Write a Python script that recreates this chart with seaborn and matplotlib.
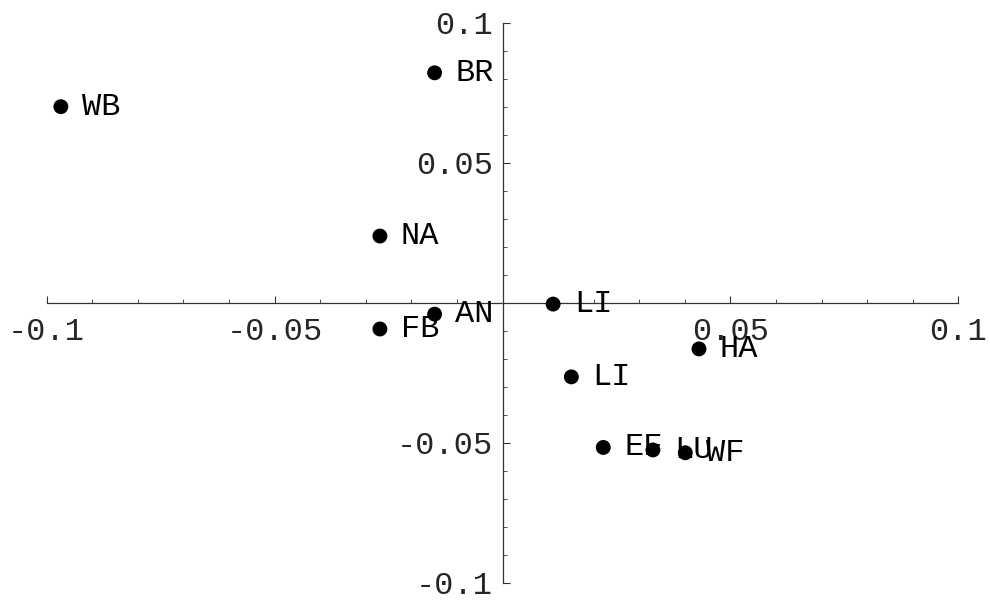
import numpy as np
import pandas as pd
import matplotlib
matplotlib.use('Agg')
import matplotlib.pyplot as plt
from matplotlib.ticker import FixedLocator, MultipleLocator
import seaborn as sns

# data
labels = ['WB', 'BR', 'NA', 'AN', 'FB', 'LI', 'HA', 'LI', 'EF', 'LU', 'WF']
x_vals = [-0.0969, -0.0149, -0.0269, -0.0149, -0.0269, 0.0111, 0.0431, 0.0151, 0.0221, 0.0330, 0.0401]
y_vals = [0.0700, 0.0821, 0.0238, -0.0041, -0.0094, -0.0005, -0.0165, -0.0265, -0.0517, -0.0526, -0.0536]
major_ticks = [-0.1, -0.05, 0.05, 0.1]
tick_labels = ['-0.1', '-0.05', '0.05', '0.1']

df = pd.DataFrame({'label': labels, 'x': x_vals, 'y': y_vals})

sns.set_style('white')
plt.rcParams['font.family'] = ['Liberation Mono', 'DejaVu Sans Mono']
plt.rcParams['axes.unicode_minus'] = False

fig = plt.figure(figsize=(9.9, 6.03), dpi=100)
ax = fig.add_axes([0.0472, 0.0337, 0.9208, 0.9287])

sns.scatterplot(data=df, x='x', y='y', color='black', s=115,
                edgecolor='none', ax=ax, zorder=3)

for _, r in df.iterrows():
    ax.annotate(r['label'], (r['x'], r['y']), xytext=(15, 0),
                textcoords='offset points', va='center', ha='left',
                fontsize=23, color='black')

ax.set_xlim(-0.1, 0.1)
ax.set_ylim(-0.1, 0.1)
ax.set_xlabel('')
ax.set_ylabel('')

# axes crossing at origin
ax.spines['left'].set_position(('data', 0))
ax.spines['bottom'].set_position(('data', 0))
ax.spines['top'].set_visible(False)
ax.spines['right'].set_visible(False)
for s in ['left', 'bottom']:
    ax.spines[s].set_linewidth(0.9)
    ax.spines[s].set_color('#333333')

ax.xaxis.set_major_locator(FixedLocator(major_ticks))
ax.yaxis.set_major_locator(FixedLocator(major_ticks))
ax.set_xticklabels(tick_labels)
ax.set_yticklabels(tick_labels)
ax.xaxis.set_minor_locator(MultipleLocator(0.01))
ax.yaxis.set_minor_locator(MultipleLocator(0.01))

ax.tick_params(axis='both', which='major', direction='in', length=5,
               width=0.8, color='#333333', labelsize=23, pad=7)
ax.tick_params(axis='both', which='minor', direction='in', length=3,
               width=0.6, color='#333333')
ax.tick_params(axis='x', which='major', pad=10)
ax.tick_params(bottom=True, left=True, which='both')

fig.savefig('out.png', dpi=100)
